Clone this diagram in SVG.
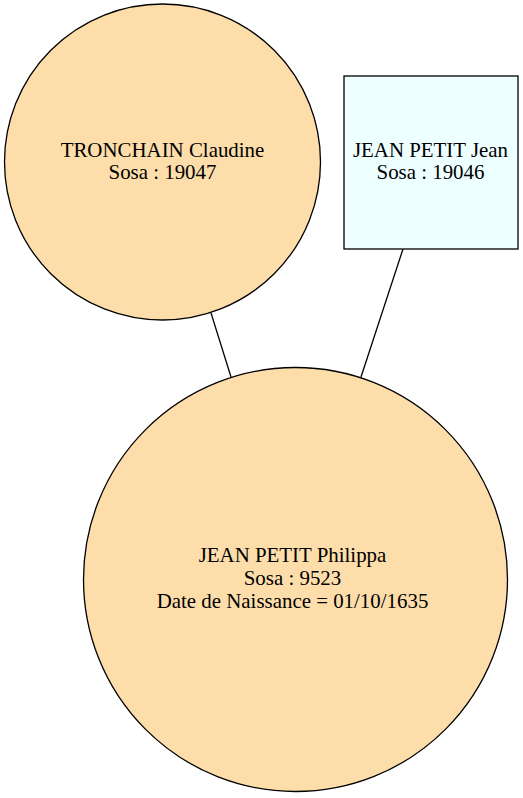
<svg xmlns="http://www.w3.org/2000/svg" width="523" height="798" viewBox="0 0 523 798">
<style>
.n{stroke:#000;stroke-width:1.3}
.f{fill:#fddeab}
.t{font-family:"Liberation Serif","Times New Roman",serif;font-size:20.9px;text-anchor:middle;fill:#000}
.e{stroke:#000;stroke-width:1.3;fill:none}
</style>
<rect width="523" height="798" fill="#fff"/>
<g id="edges">
<line class="e" x1="211" y1="313" x2="231" y2="377"/>
<line class="e" x1="403" y1="249" x2="361" y2="377"/>
</g>
<g id="claudine">
<circle class="n f" cx="162.5" cy="162" r="158"/>
<text class="t" x="162.5" y="156.5">TRONCHAIN Claudine</text>
<text class="t" x="162.5" y="178.5">Sosa : 19047</text>
</g>
<g id="jean">
<rect class="n" x="344" y="76" width="174" height="173" fill="#eeffff"/>
<text class="t" x="430.5" y="156.5">JEAN PETIT Jean</text>
<text class="t" x="430.5" y="178.5">Sosa : 19046</text>
</g>
<g id="philippa">
<circle class="n f" cx="295.5" cy="579.5" r="212"/>
<text class="t" x="292.5" y="561.5">JEAN PETIT Philippa</text>
<text class="t" x="292.5" y="584.5">Sosa : 9523</text>
<text class="t" x="292.5" y="608">Date de Naissance = 01/10/1635</text>
</g>
</svg>
